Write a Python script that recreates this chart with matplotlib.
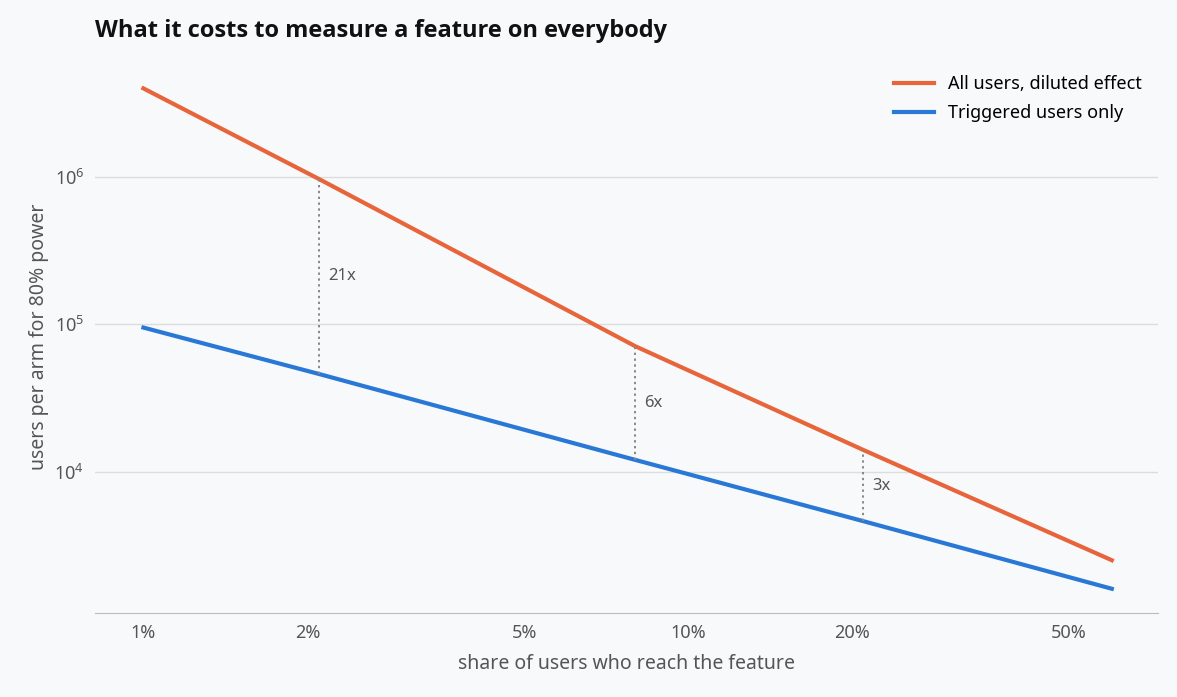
import matplotlib.pyplot as plt
import matplotlib.ticker as mticker

plt.rcParams['font.family'] = ['Noto Sans', 'DejaVu Sans']

share = [0.01, 0.021, 0.08, 0.21, 0.60]
all_users = [4.0e6, 9.7e5, 7.1e4, 1.4e4, 2.5e3]
triggered = [9.5e4, 4.6e4, 1.2e4, 4.6e3, 1.6e3]

gap_x = [0.021, 0.08, 0.21]
gap_lo = [4.6e4, 1.2e4, 4.6e3]
gap_hi = [9.7e5, 7.1e4, 1.4e4]
gap_labels = ["21x", "6x", "3x"]

bg = "#f8f9fb"
fig, ax = plt.subplots(figsize=(11.77, 6.97), dpi=100, facecolor=bg)
ax.set_facecolor(bg)
fig.subplots_adjust(left=0.081, right=0.984, top=0.915, bottom=0.12)

ax.plot(share, all_users, color="#e8643a", lw=3, label="All users, diluted effect")
ax.plot(share, triggered, color="#2a78d6", lw=3, label="Triggered users only")

for x, lo, hi, lab in zip(gap_x, gap_lo, gap_hi, gap_labels):
    ax.plot([x, x], [lo, hi], color="#888888", lw=1.4, ls=(0, (1.2, 1.8)))
    ax.text(x * 1.04, (lo * hi) ** 0.5, lab, color="#555555", fontsize=12, va="center", ha="left")

ax.set_xscale("log")
ax.set_yscale("log")
ax.set_xlim(0.00816, 0.73)
ax.set_ylim(10 ** 3.037, 10 ** 6.8)
ax.set_xticks([0.01, 0.02, 0.05, 0.10, 0.20, 0.50])
ax.set_xticklabels(["1%", "2%", "5%", "10%", "20%", "50%"])
ax.xaxis.set_minor_locator(mticker.NullLocator())
ax.set_yticks([1e4, 1e5, 1e6])
ax.yaxis.set_minor_locator(mticker.NullLocator())
ax.tick_params(length=0, labelsize=13, labelcolor="#555555", pad=8)
ax.grid(axis="y", color="#dddddd", lw=1)
for s in ["top", "right", "left"]:
    ax.spines[s].set_visible(False)
ax.spines["bottom"].set_color("#bbbbbb")

ax.set_xlabel("share of users who reach the feature", fontsize=14, color="#555555", labelpad=8)
ax.set_ylabel("users per arm for 80% power", fontsize=14, color="#555555")
fig.text(0.081, 0.955, "What it costs to measure a feature on everybody", fontsize=17,
         fontweight="bold", color="#111111", va="center", family=["Open Sans", "DejaVu Sans"])
ax.legend(loc="upper right", frameon=False, fontsize=13, bbox_to_anchor=(1.0, 1.0),
          handlelength=2.2, labelspacing=0.6)

fig.savefig("out.png", facecolor=bg)
